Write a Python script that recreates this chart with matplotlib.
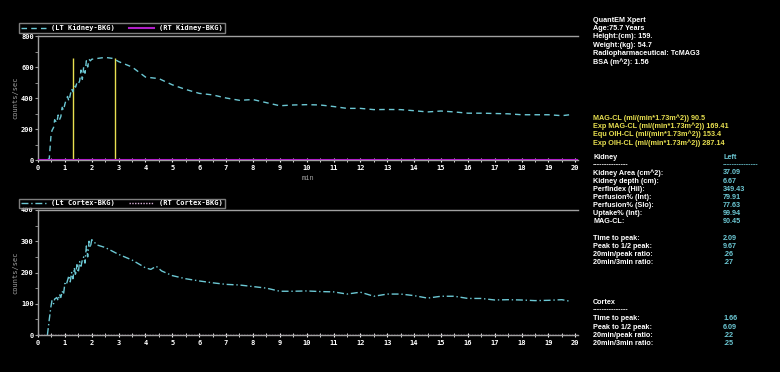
import numpy as np
import matplotlib
matplotlib.use("Agg")
import matplotlib.pyplot as plt

# --- data ---
t_kid = [0.35, 0.42, 0.48, 0.52, 0.58, 0.62, 0.7, 0.75, 0.8, 0.85, 0.9, 0.95, 1.0, 1.05, 1.1,
         1.15, 1.2, 1.25, 1.3, 1.35, 1.4, 1.45, 1.5, 1.55, 1.6, 1.65, 1.7, 1.75, 1.8, 1.85,
         1.9, 1.95, 2.0, 2.2, 2.5, 2.8, 3.0, 3.5, 4.0, 4.5, 5.0, 5.5, 6.0, 6.5, 7.0, 7.5, 8.0,
         8.5, 9.0, 9.5, 10.0, 10.5, 11.0, 11.5, 12.0, 12.5, 13.0, 13.5, 14.0, 14.5, 15.0,
         15.5, 16.0, 16.5, 17.0, 17.5, 18.0, 18.5, 19.0, 19.5, 19.8]
lt_kidney = [0, 10, 150, 190, 210, 260, 240, 290, 260, 280, 340, 320, 360, 390, 410,
             380, 420, 460, 440, 480, 470, 500, 490, 510, 580, 520, 600, 560, 640, 600,
             650, 640, 650, 655, 662, 655, 635, 600, 535, 525, 485, 455, 430, 420, 400,
             385, 390, 370, 350, 355, 357, 355, 345, 333, 333, 325, 326, 325, 318, 310, 316,
             310, 302, 302, 300, 298, 292, 292, 292, 286, 292]

t_ctx = [0.35, 0.42, 0.48, 0.52, 0.58, 0.62, 0.7, 0.75, 0.8, 0.85, 0.9, 0.95, 1.0, 1.05, 1.1,
         1.15, 1.2, 1.25, 1.3, 1.35, 1.4, 1.45, 1.5, 1.55, 1.6, 1.65, 1.7, 1.75, 1.8, 1.85,
         1.9, 1.95, 2.0, 2.2, 2.5, 3.0, 3.5, 4.0, 4.2, 4.4, 4.6, 5.0, 5.5, 6.0, 6.5, 7.0, 7.5,
         8.0, 8.5, 9.0, 9.5, 10.0, 10.5, 11.0, 11.5, 12.0, 12.5, 13.0, 13.5, 14.0, 14.5,
         15.0, 15.5, 16.0, 16.5, 17.0, 17.5, 18.0, 18.5, 19.0, 19.5, 19.8]
lt_cortex = [0, 50, 90, 110, 100, 115, 120, 110, 130, 120, 140, 130, 165, 160, 175,
             190, 170, 200, 180, 215, 190, 225, 200, 235, 220, 240, 250, 230, 285, 250,
             300, 280, 305, 288, 280, 258, 240, 215, 210, 220, 205, 190, 180, 173, 167, 162, 160,
             155, 150, 140, 140, 141, 139, 138, 131, 137, 124, 131, 131, 126, 118, 124, 124, 117,
             117, 112, 113, 112, 110, 111, 113, 108]

markers = [1.3, 2.85]
marker_top = 660

info_white = ["QuantEM Xpert", "Age:75.7 Years", "Height:(cm): 159.", "Weight:(kg): 54.7",
              "Radiopharmaceutical: TcMAG3", "BSA (m^2): 1.56"]
info_yellow = ["MAG-CL (ml/(min*1.73m^2)) 90.5", "Exp MAG-CL (ml/(min*1.73m^2)) 169.41",
               "Equ OIH-CL (ml/(min*1.73m^2)) 153.4", "Exp OIH-CL (ml/(min*1.73m^2)) 287.14"]
kidney_names = ["Kidney Area (cm^2):", "Kidney depth (cm):", "PerfIndex (Hil):",
                "Perfusion% (Int):", "Perfusion% (Slo):", "Uptake% (Int):", "MAG-CL:"]
kidney_vals = ["37.09", "6.67", "349.43", "79.91", "77.63", "99.94", "90.45"]
timing_names = ["Time to peak:", "Peak to 1/2 peak:", "20min/peak ratio:", "20min/3min ratio:"]
kidney_timing = ["2.09", "9.67", ".26", ".27"]
cortex_timing = ["1.66", "6.09", ".22", ".25"]

W, H = 780, 372
cyan = "#6cc8d4"
magenta = "#b020c8"
yellow = "#e8e050"
gray = "#a0a0a0"
mono = "DejaVu Sans Mono"

fig = plt.figure(figsize=(W / 100, H / 100), dpi=100, facecolor="black")


def fx(px):
    return px / W


def fy(py):
    return 1 - py / H


def setup(ax, ymax, ystep, minor):
    ax.set_facecolor("black")
    ax.set_xlim(0, 20.1)
    ax.set_ylim(0, ymax)
    ax.spines["right"].set_visible(False)
    for s in ["left", "top", "bottom"]:
        ax.spines[s].set_color(gray)
        ax.spines[s].set_linewidth(1)
    ax.set_xticks(range(0, 21))
    ax.set_xticks(np.arange(0.5, 20, 1), minor=True)
    ax.set_yticks(np.arange(0, ymax + 1, ystep))
    ax.set_yticks(np.arange(minor, ymax, ystep), minor=True)
    ax.tick_params(axis="x", which="both", direction="inout", length=3, color="white",
                   labelsize=5, labelcolor="white", pad=2)
    ax.tick_params(axis="y", which="both", direction="out", length=2, color=gray,
                   labelsize=5, labelcolor="white", pad=1)
    for lab in ax.get_xticklabels() + ax.get_yticklabels():
        lab.set_family(mono)
        lab.set_weight("bold")
    ax.set_ylabel("counts/sec", color=gray, fontsize=5, family=mono, labelpad=2)


legend_kw = dict(ncol=2, loc="lower left", bbox_transform=fig.transFigure, frameon=True,
                 fancybox=False, handlelength=3.6, handletextpad=0.8, columnspacing=2.0,
                 borderpad=0.25, borderaxespad=0,
                 prop={"family": mono, "size": 5, "weight": "bold"})

# top: kidney
ax1 = fig.add_axes([fx(38), fy(160), fx(540), 124 / H])
setup(ax1, 800, 200, 100)
ax1.vlines(markers, 0, marker_top, color=yellow, lw=1)
l1, = ax1.plot(t_kid, lt_kidney, color=cyan, lw=1, ls=(0, (4, 3)))
l2 = ax1.axhline(0, color=magenta, lw=1.5, zorder=3)
ax1.set_xlabel("min", color=gray, fontsize=5, family=mono, labelpad=3)
leg1 = ax1.legend([l1, l2], ["(LT Kidney-BKG)", "(RT Kidney-BKG)"],
                  bbox_to_anchor=(fx(19), fy(33)), **legend_kw)

# bottom: cortex
ax2 = fig.add_axes([fx(38), fy(335), fx(540), 125 / H])
setup(ax2, 400, 100, 50)
c1, = ax2.plot(t_ctx, lt_cortex, color=cyan, lw=1, ls=(0, (5, 2, 1, 2)))
c2 = ax2.axhline(0, color="#d8b0d8", lw=1, ls=(0, (1, 1)), zorder=3)
leg2 = ax2.legend([c1, c2], ["(Lt Cortex-BKG)", "(RT Cortex-BKG)"],
                  bbox_to_anchor=(fx(19), fy(208)), **legend_kw)

for leg in (leg1, leg2):
    fr = leg.get_frame()
    fr.set_facecolor("black")
    fr.set_edgecolor(gray)
    fr.set_linewidth(1)
    for txt in leg.get_texts():
        txt.set_color("white")

# info panel
tx = dict(fontsize=5.2, family="Liberation Sans", weight="bold", va="center")
x0, x1 = fx(593), fx(723)
for i, s in enumerate(info_white):
    fig.text(x0, fy(20 + 8.4 * i), s, color="white", **tx)
for i, s in enumerate(info_yellow):
    fig.text(x0, fy(118 + 8.3 * i), s, color=yellow, **tx)

fig.text(x0, fy(157), "Kidney", color="white", **tx)
fig.text(x1, fy(157), "Left", color=cyan, **tx)
fig.text(x0, fy(165), "---------------", color="white", **tx)
fig.text(x1, fy(165), "---------------", color=cyan, **tx)
for i, (n, v) in enumerate(zip(kidney_names, kidney_vals)):
    fig.text(x0, fy(173 + 8.1 * i), n, color="white", **tx)
    fig.text(x1, fy(173 + 8.1 * i), v, color=cyan, **tx)
for i, (n, v) in enumerate(zip(timing_names, kidney_timing)):
    fig.text(x0, fy(238 + 8.1 * i), n, color="white", **tx)
    fig.text(x1, fy(238 + 8.1 * i), v, color=cyan, **tx)

fig.text(x0, fy(302), "Cortex", color="white", **tx)
fig.text(x0, fy(310), "---------------", color="white", **tx)
for i, (n, v) in enumerate(zip(timing_names, cortex_timing)):
    fig.text(x0, fy(319 + 8.1 * i), n, color="white", **tx)
    fig.text(x1, fy(319 + 8.1 * i), v, color=cyan, **tx)

fig.savefig("out.png", dpi=100, facecolor="black")
